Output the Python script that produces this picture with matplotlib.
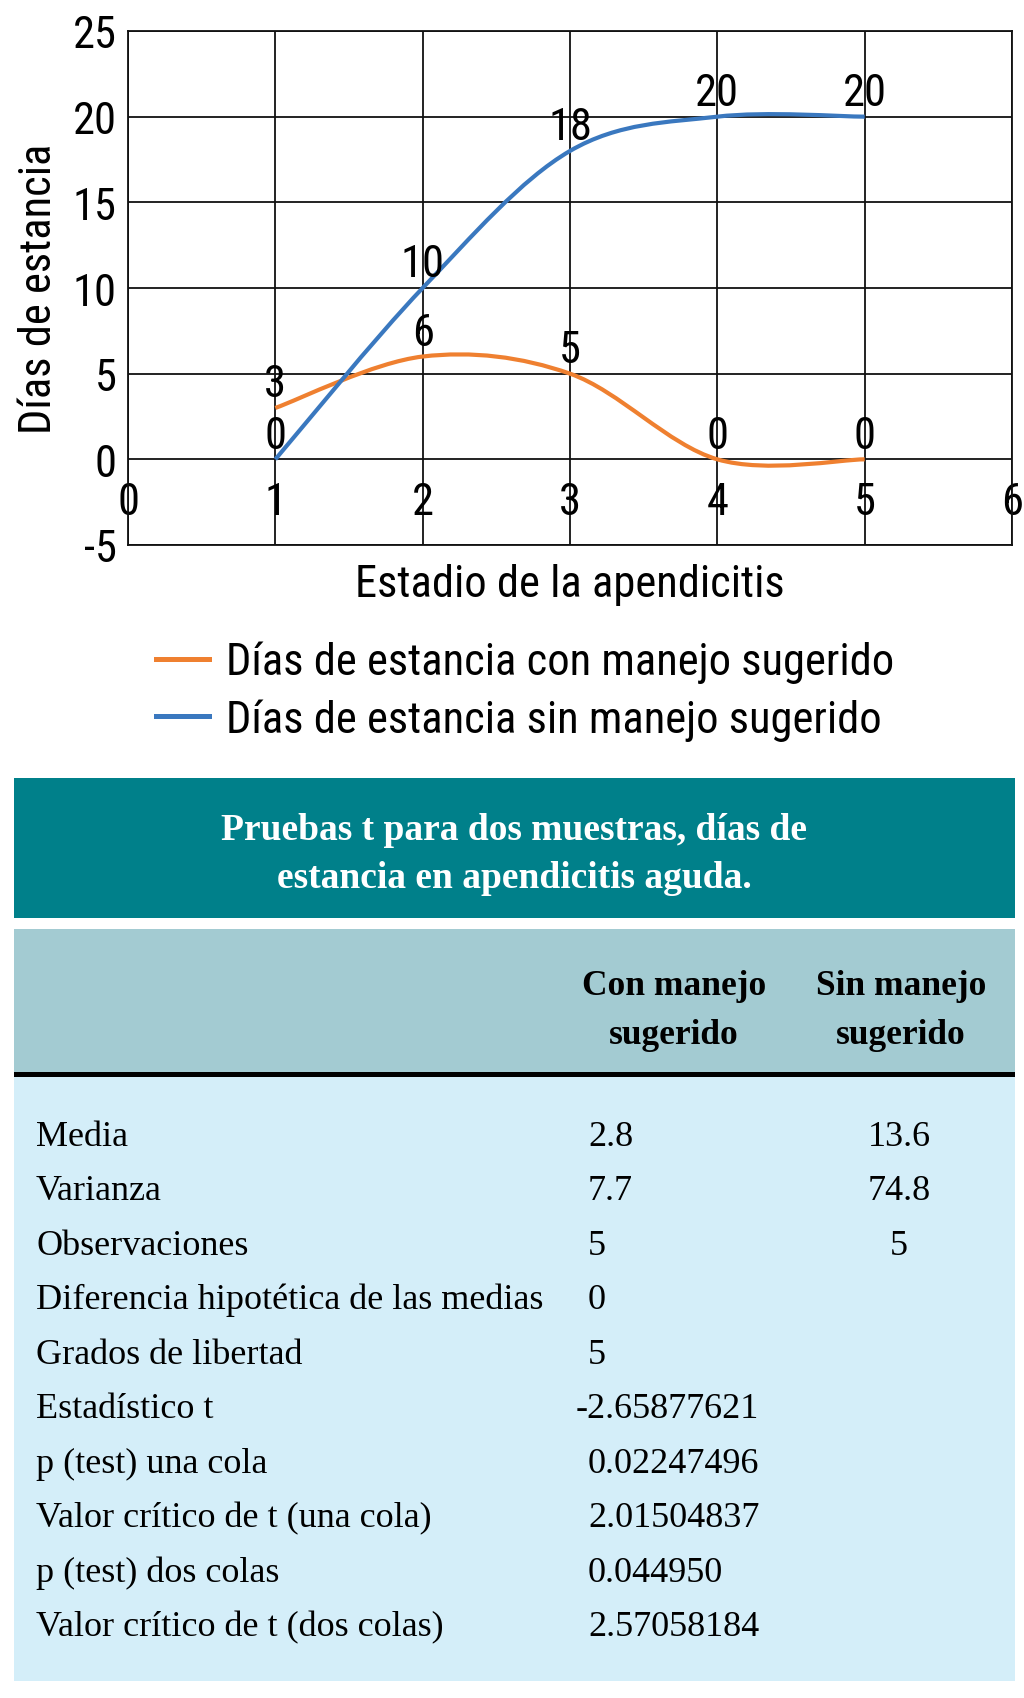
import matplotlib
matplotlib.use("Agg")
import matplotlib.pyplot as plt
from matplotlib import font_manager
from matplotlib.path import Path
from matplotlib.patches import PathPatch, Rectangle
from matplotlib.lines import Line2D

# chart data
stages = [1, 2, 3, 4, 5]
con_manejo = [3, 6, 5, 0, 0]
sin_manejo = [0, 10, 18, 20, 20]
series_names = ["Días de estancia con manejo sugerido",
                "Días de estancia sin manejo sugerido"]
x_ticks = [0, 1, 2, 3, 4, 5, 6]
y_ticks = [-5, 0, 5, 10, 15, 20, 25]

# table data
table_title = ["Pruebas t para dos muestras, días de",
               "estancia en apendicitis aguda."]
col_headers = [["Con manejo", "sugerido"], ["Sin manejo", "sugerido"]]
row_labels = ["Media", "Varianza", "Observaciones",
              "Diferencia hipotética de las medias", "Grados de libertad",
              "Estadístico t", "p (test) una cola",
              "Valor crítico de t (una cola)", "p (test) dos colas",
              "Valor crítico de t (dos colas)"]
col_con = ["2.8", "7.7", "5", "0", "5", "-2.65877621", "0.02247496",
           "2.01504837", "0.044950", "2.57058184"]
col_sin = ["13.6", "74.8", "5", "", "", "", "", "", "", ""]

ORANGE = "#EF8030"
BLUE = "#3A78BF"
SERIF = ["Liberation Serif", "DejaVu Serif"]

# the original uses a condensed grotesque; take a narrow face if there is one
installed = {f.name for f in font_manager.fontManager.ttflist}
narrow = next((n for n in ["Liberation Sans Narrow", "Arial Narrow",
                           "Roboto Condensed", "DejaVu Sans Condensed",
                           "Open Sans Condensed"] if n in installed), None)
if narrow:
    SANS = [narrow, "Liberation Sans", "DejaVu Sans"]
    FS = 32
else:
    SANS = ["Liberation Sans", "DejaVu Sans"]
    FS = 30

plt.rcParams["axes.unicode_minus"] = False


def smooth_path(xs, ys):
    # Excel-style smoothed line: cubic bezier through each point
    pts = list(zip(xs, ys))
    verts = [pts[0]]
    codes = [Path.MOVETO]
    for i in range(len(pts) - 1):
        p0 = pts[max(i - 1, 0)]
        p1 = pts[i]
        p2 = pts[i + 1]
        p3 = pts[min(i + 2, len(pts) - 1)]
        c1 = (p1[0] + (p2[0] - p0[0]) / 6, p1[1] + (p2[1] - p0[1]) / 6)
        c2 = (p2[0] - (p3[0] - p1[0]) / 6, p2[1] - (p3[1] - p1[1]) / 6)
        verts += [c1, c2, p2]
        codes += [Path.CURVE4] * 3
    return Path(verts, codes)


W, H = 1024, 1699
fig = plt.figure(figsize=(W / 100, H / 100), dpi=100)

# ---- line chart ----
ax = fig.add_axes([128 / W, 1 - 546 / H, 884 / W, 514 / H])
ax.set_xlim(0, 6)
ax.set_ylim(-5, 25)
ax.set_xticks(x_ticks)
ax.set_yticks(y_ticks)
ax.grid(True, color="#111111", linewidth=1.3, zorder=0)
ax.set_axisbelow(True)
for sp in ax.spines.values():
    sp.set_color("#111111")
    sp.set_linewidth(1.3)
ax.tick_params(axis="both", length=0, labelsize=FS)
ax.tick_params(axis="y", pad=8)
ax.tick_params(axis="x", pad=-46)
for lab in ax.get_xticklabels() + ax.get_yticklabels():
    lab.set_family(SANS)

for values, color in [(con_manejo, ORANGE), (sin_manejo, BLUE)]:
    ax.add_patch(PathPatch(smooth_path(stages, values), fill=False,
                           edgecolor=color, linewidth=3.0,
                           capstyle="butt", zorder=3))
    for x, y in zip(stages, values):
        ax.annotate(str(y), (x, y), xytext=(0, 2), textcoords="offset points",
                    ha="center", va="bottom", fontsize=FS, family=SANS,
                    zorder=4)

ax.set_xlabel("Estadio de la apendicitis", fontsize=FS, family=SANS)
ax.xaxis.set_label_coords(0.5, -0.035)
ax.set_ylabel("Días de estancia", fontsize=FS, family=SANS)
ax.yaxis.set_label_coords(-0.077, 0.5)

handles = [Line2D([], [], color=ORANGE, linewidth=3.6),
           Line2D([], [], color=BLUE, linewidth=3.6)]
fig.legend(handles, series_names, loc="upper left",
           bbox_to_anchor=(156 / W, 1 - 642 / H), frameon=False,
           prop={"family": SANS, "size": FS}, handlelength=53 / (FS * 1.389),
           handletextpad=0.38, labelspacing=0.33, borderpad=0,
           borderaxespad=0)

# ---- table ----
tab = fig.add_axes([0, 0, 1, (H - 760) / H])
tab.set_xlim(0, W)
tab.set_ylim(H, 760)
tab.axis("off")

tab.add_patch(Rectangle((14, 779), 1001, 140, color="#00808A", lw=0))
tab.add_patch(Rectangle((14, 930), 1001, 143, color="#A3CBD2", lw=0))
tab.add_patch(Rectangle((14, 1073), 1001, 5, color="#000000", lw=0))
tab.add_patch(Rectangle((14, 1078), 1001, 604, color="#D4EEF9", lw=0))

for yb, line in zip([840, 888], table_title):
    tab.text(514, yb, line, ha="center", va="baseline", color="white",
             fontsize=27, fontweight="bold", family=SERIF)

for cx, head in zip([674, 901], col_headers):
    for yb, line in zip([995, 1044], head):
        tab.text(cx, yb, line, ha="center", va="baseline", fontsize=25.5,
                 fontweight="bold", family=SERIF)

for i, (label, v1, v2) in enumerate(zip(row_labels, col_con, col_sin)):
    yb = 1146 + 54.5 * i
    tab.text(36, yb, label, ha="left", va="baseline", fontsize=26,
             family=SERIF)
    x1 = 576 if v1.startswith("-") else 588
    tab.text(x1, yb, v1, ha="left", va="baseline", fontsize=26,
             family=SERIF)
    if v2:
        tab.text(899, yb, v2, ha="center", va="baseline", fontsize=26,
                 family=SERIF)

fig.savefig("out.png", dpi=100)
